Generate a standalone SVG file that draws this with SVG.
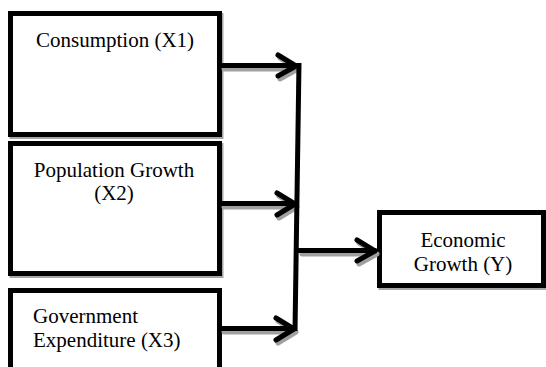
<svg xmlns="http://www.w3.org/2000/svg" width="546" height="367" viewBox="0 0 546 367">
<style>
.box{fill:#fff;stroke:#000;stroke-width:5}
.bsh{fill:none;stroke:#a6a6a6;stroke-width:5}
.ln{fill:none;stroke:#000;stroke-width:5;stroke-linecap:round;stroke-linejoin:round}
.sh{fill:none;stroke:#a0a0a0;stroke-width:5;stroke-linecap:round;stroke-linejoin:round}
.t{font-family:"Liberation Serif","Times New Roman",serif;font-size:21px;fill:#000}
</style>
<rect width="546" height="367" fill="#fff"/>
<g id="x1">
<rect class="bsh" x="12" y="15.5" width="209" height="121"/>
<rect class="box" x="10.5" y="13.5" width="209" height="121"/>
<text class="t" x="115" y="47" text-anchor="middle">Consumption (X1)</text>
</g>
<g id="x2">
<rect class="bsh" x="12" y="145.5" width="209" height="130"/>
<rect class="box" x="10.5" y="143.5" width="209" height="130"/>
<text class="t" x="114" y="177" text-anchor="middle">Population Growth</text>
<text class="t" x="114" y="200" text-anchor="middle">(X2)</text>
</g>
<g id="x3">
<line x1="13" y1="363" x2="222" y2="363" stroke="#a6a6a6" stroke-width="1.5"/>
<rect class="box" x="10.5" y="290.5" width="209" height="90"/>
<text class="t" x="33" y="323">Government</text>
<text class="t" x="33" y="347">Expenditure (X3)</text>
</g>
<g id="y">
<rect class="bsh" x="381" y="214.5" width="164" height="73"/>
<rect class="box" x="379.5" y="212.5" width="164" height="73"/>
<text class="t" x="463" y="247" text-anchor="middle">Economic</text>
<text class="t" x="463" y="271" text-anchor="middle">Growth (Y)</text>
</g>
<g id="connectors">
<line class="sh" x1="224" y1="69" x2="290" y2="69"/>
<polyline class="sh" points="280,58 298,69 280,79"/>
<line class="ln" x1="222" y1="65.5" x2="296" y2="65.5"/>
<polyline class="ln" points="278,55 296,66 278,76"/>
<line class="sh" x1="224" y1="207" x2="289" y2="207"/>
<polyline class="sh" points="279,196 297,207 279,218"/>
<line class="ln" x1="222" y1="203.5" x2="295" y2="203.5"/>
<polyline class="ln" points="277,193 295,204 277,215"/>
<line class="sh" x1="224" y1="332" x2="287" y2="332"/>
<polyline class="sh" points="278,321 296,332 278,343"/>
<line class="ln" x1="222" y1="328.5" x2="293" y2="328.5"/>
<polyline class="ln" points="276,318 294,329 276,340"/>
<line class="sh" x1="302" y1="254" x2="372" y2="254"/>
<polyline class="sh" points="359,243 377,254 359,264"/>
<line class="ln" x1="299" y1="250.5" x2="375" y2="250.5"/>
<polyline class="ln" points="357,240 375,251 357,261"/>
<line x1="299" y1="63" x2="295" y2="331" stroke="#000" stroke-width="5"/>
</g>
</svg>
